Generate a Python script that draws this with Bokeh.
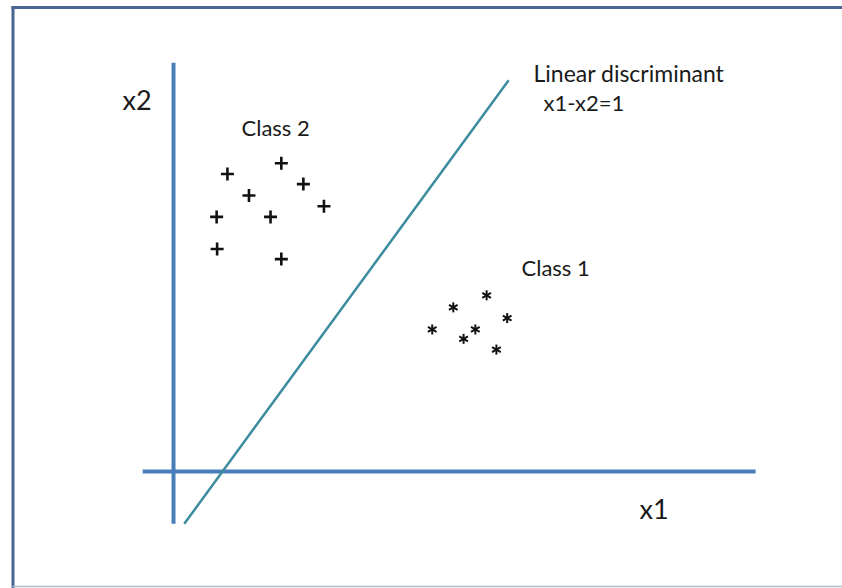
import math
from bokeh.plotting import figure
from bokeh.models import ColumnDataSource
from bokeh.core.properties import value
from bokeh.embed import file_html
from bokeh.resources import INLINE

# Class 2 samples (plus signs), feature space (x1, x2)
class2_x1 = [1.10, 2.20, 2.65, 1.54, 3.07, 0.88, 1.98, 0.89, 2.20]
class2_x2 = [4.44, 4.60, 4.29, 4.12, 3.96, 3.80, 3.80, 3.32, 3.17]

# Class 1 samples (asterisks)
class1_x1 = [6.39, 5.71, 6.81, 5.28, 6.16, 5.92, 6.59]
class1_x2 = [2.63, 2.45, 2.29, 2.12, 2.12, 1.98, 1.82]

# Linear discriminant x1 - x2 = c
disc_c = 1.0
disc_x2_span = [-0.78, 5.84]

# Coordinate axes extents
x1_axis_span = [-0.63, 11.88]
x2_axis_span = [-0.78, 6.10]

W, H = 842, 588
X_RANGE = (-3.531, 13.653)
Y_RANGE = (-1.746, 7.030)


def sx(px):
    """screen x pixel -> data x1"""
    return X_RANGE[0] + px / W * (X_RANGE[1] - X_RANGE[0])


def sy(py):
    """screen y pixel (from top) -> data x2"""
    return Y_RANGE[1] - py / H * (Y_RANGE[1] - Y_RANGE[0])


p = figure(width=W, height=H, x_range=X_RANGE, y_range=Y_RANGE,
           x_axis_type=None, y_axis_type=None, toolbar_location=None,
           output_backend="svg", min_border=0)
p.outline_line_color = None
p.grid.visible = False
p.background_fill_color = "white"
p.border_fill_color = "white"

# slide frame
p.line([sx(11), sx(842)], [sy(7), sy(7)], line_color="#4b6592", line_width=3)
p.line([sx(12.5), sx(12.5)], [sy(6), sy(588)], line_color="#4b6592", line_width=3)
p.line([sx(12), sx(842)], [sy(586), sy(586)], line_color="#a9c0cc", line_width=1.5)

axis_color = "#4a7ebb"
# x1 axis and x2 axis
p.line(x1_axis_span, [0, 0], line_color=axis_color, line_width=4)
p.line([0, 0], x2_axis_span, line_color=axis_color, line_width=4)

# discriminant line
disc_x1 = [v + disc_c for v in disc_x2_span]
p.line(disc_x1, disc_x2_span, line_color="#3c8c9e", line_width=2.5)

ink = "#111111"
# Class 2: plus signs
p.scatter(class2_x1, class2_x2, marker="cross", size=13, line_width=2.6,
          line_color=ink)

# Class 1: six-armed asterisks
for ang in (math.pi / 2, math.pi / 6, -math.pi / 6):
    p.scatter(class1_x1, class1_x2, marker="dash", size=10, angle=ang,
              line_width=2.0, line_color=ink)

font = value("Lato")
labels = ColumnDataSource(dict(
    x=[sx(122), sx(241), sx(533), sx(543), sx(521), sx(639)],
    y=[sy(99), sy(127), sy(72), sy(102), sy(267), sy(508)],
    t=["x2", "Class 2", "Linear discriminant", "x1-x2=1", "Class 1", "x1"],
    s=["27px", "22px", "23px", "22px", "22px", "27px"],
))
p.text(x="x", y="y", text="t", text_font_size="s", source=labels,
       text_font=font, text_color="#1a1a1a", text_align="left",
       text_baseline="middle")

open("out.html", "w").write(file_html(p, INLINE))
